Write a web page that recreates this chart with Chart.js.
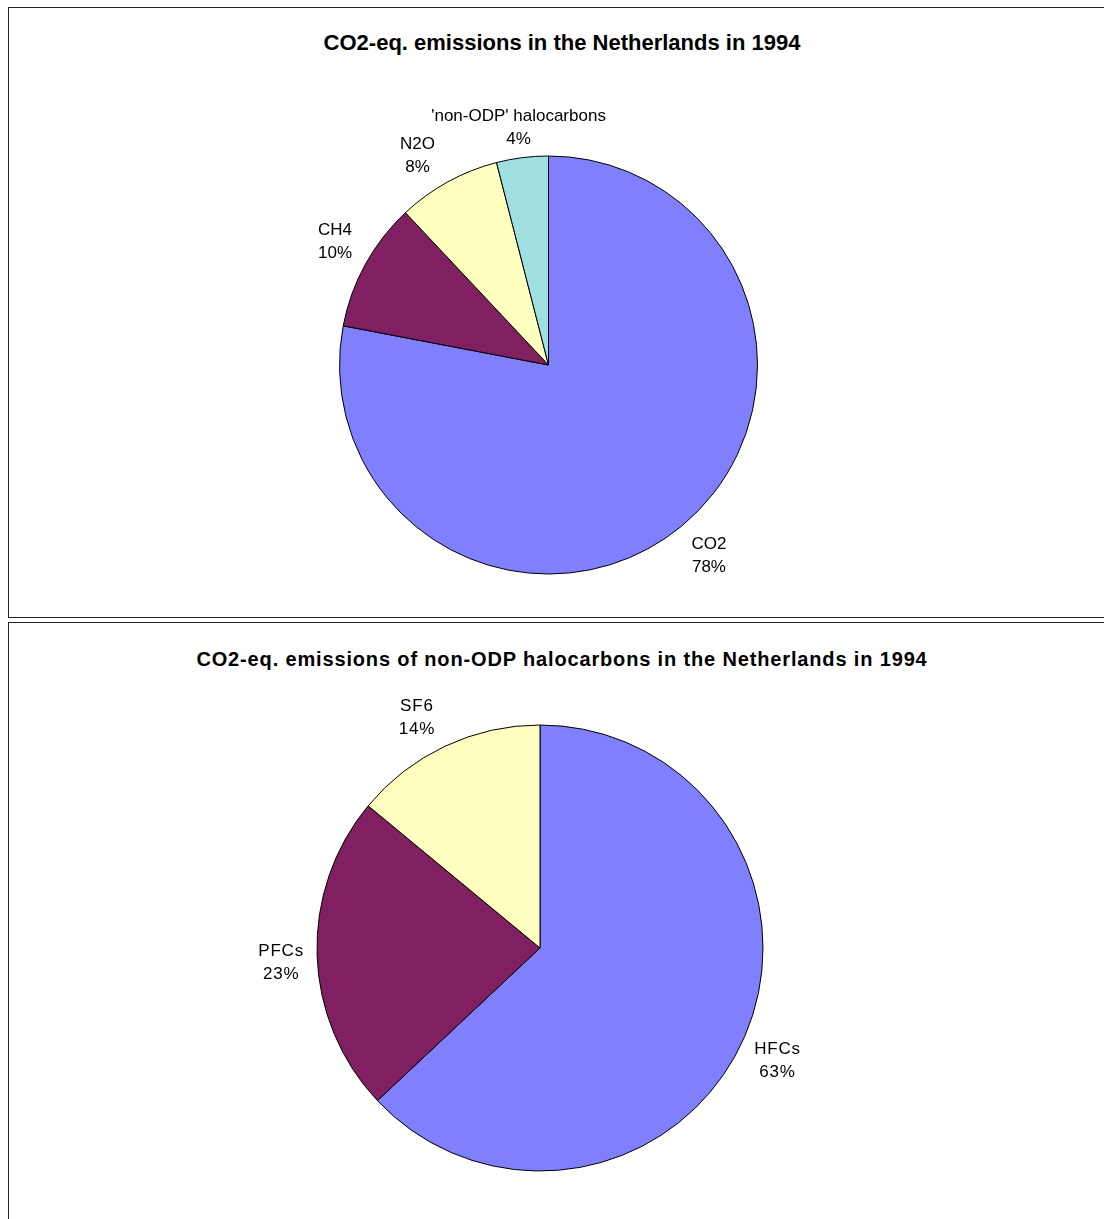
<!DOCTYPE html>
<html>
<head>
<meta charset="utf-8">
<script src="https://cdn.jsdelivr.net/npm/chart.js@4"></script>
<style>
  body { margin: 0; background: #fff; font-family: Arial, "Liberation Sans", sans-serif; }
  .box { position: absolute; border: 1px solid #222; border-right: none; }
  .title { position: absolute; left: 0; width: 1104px; text-align: center; font-weight: bold; color: #000; }
  canvas { position: absolute; }
</style>
</head>
<body>
<div class="box" style="left:8px; top:7px; width:1110px; height:609px;"></div>
<div class="box" style="left:8px; top:622px; width:1110px; height:620px; border-bottom:none;"></div>
<div class="title" style="top:30px; left:10px; font-size:22px;">CO2-eq. emissions in the Netherlands in 1994</div>
<div class="title" style="top:648px; left:10px; font-size:20px; letter-spacing:0.85px;">CO2-eq. emissions of non-ODP halocarbons in the Netherlands in 1994</div>
<canvas id="totalChart" style="left:9px; top:8px;" width="1095" height="608"></canvas>
<canvas id="halocarbonChart" style="left:9px; top:624px;" width="1095" height="595"></canvas>
<script>
// 1994 shares in %, CO2-equivalent
const gasNames = ['CO2', 'CH4', 'N2O', "'non-ODP' halocarbons"];
const gasShares = [78, 10, 8, 4];
const halocarbonNames = ['HFCs', 'PFCs', 'SF6'];
const halocarbonShares = [63, 23, 14];

const gasColors = ['#8080FF', '#802060', '#FFFFC0', '#A0E0E0'];
const halocarbonColors = ['#8080FF', '#802060', '#FFFFC0'];

// writes "name / xx%" just outside each slice, with a small nudge per label
const sliceLabels = {
    id: 'sliceLabels',
    afterDatasetsDraw(chart, args, opts) {
        const ctx = chart.ctx;
        const meta = chart.getDatasetMeta(0);
        const values = chart.data.datasets[0].data;
        const nudge = opts.nudge || [];
        ctx.save();
        ctx.font = '17px Arial, "Liberation Sans", sans-serif';
        ctx.letterSpacing = (opts.spacing || 0) + 'px';
        ctx.fillStyle = '#000';
        ctx.textAlign = 'center';
        ctx.textBaseline = 'middle';
        meta.data.forEach((arc, i) => {
            const p = arc.getProps(['x', 'y', 'startAngle', 'endAngle', 'outerRadius'], true);
            const mid = (p.startAngle + p.endAngle) / 2;
            const d = p.outerRadius + 38;
            const [nx, ny] = nudge[i] || [0, 0];
            const tx = p.x + Math.cos(mid) * d + nx;
            const ty = p.y + Math.sin(mid) * d + ny;
            ctx.fillText(chart.data.labels[i], tx, ty - 11.5);
            ctx.fillText(values[i] + '%', tx, ty + 11.5);
        });
        ctx.restore();
    }
};

function makePie(id, labels, values, colors, radius, padding, spacing, nudge) {
    new Chart(document.getElementById(id), {
        type: 'pie',
        data: {
            labels: labels,
            datasets: [{
                data: values,
                backgroundColor: colors,
                borderColor: '#000',
                borderWidth: 1
            }]
        },
        options: {
            responsive: false,
            animation: false,
            radius: radius,
            layout: { padding: padding },
            plugins: {
                legend: { display: false },
                tooltip: { enabled: false },
                sliceLabels: { spacing: spacing, nudge: nudge }
            }
        },
        plugins: [sliceLabels]
    });
}

makePie('totalChart', gasNames, gasShares, gasColors, 209,
    { top: 106, right: 16, bottom: 0, left: 0 }, 0,
    [[3, 0], [3, -4], [-12, 7], [1, 8]]);
makePie('halocarbonChart', halocarbonNames, halocarbonShares, halocarbonColors, 223,
    { top: 53, right: 33, bottom: 0, left: 0 }, 0.8,
    [[-2, 9], [2, 7], [-12, 6]]);
</script>
</body>
</html>
